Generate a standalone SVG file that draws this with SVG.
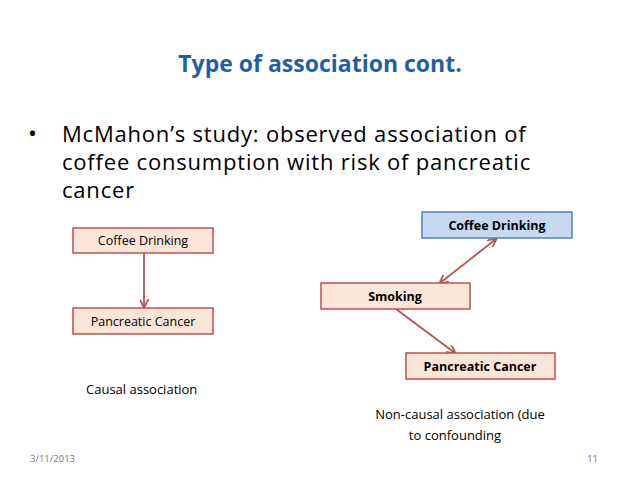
<svg xmlns="http://www.w3.org/2000/svg" width="638" height="479" viewBox="0 0 638 479">
<style>
text{font-family:"Open Sans","Liberation Sans",sans-serif;fill:#000}
.box{fill:#fbe5d6;stroke:#b85450;stroke-width:1.5}
.blue{fill:#c6d9f1;stroke:#4f81bd;stroke-width:1.5}
.lbl{font-size:12.5px;text-anchor:middle}
.b{font-weight:bold}
.c{stroke:#b85450;stroke-width:1.8;fill:none}
.bt{font-size:22px;letter-spacing:0.8px}
</style>
<defs><marker id="a" viewBox="0 0 10 10" refX="9" refY="5" markerWidth="5" markerHeight="5" orient="auto-start-reverse"><path d="M0,0 L10,5 L0,10" fill="none" stroke="#b85450" stroke-width="2"/></marker></defs>
<rect width="638" height="479" fill="#fff"/>
<text x="320" y="72" text-anchor="middle" font-size="23" font-weight="bold" style="fill:#1f5fa8">Type of association cont.</text>
<text x="28" y="142" font-size="24">•</text>
<text class="bt" x="62" y="142">McMahon’s study: observed association of</text>
<text class="bt" x="62" y="170">coffee consumption with risk of pancreatic</text>
<text class="bt" x="62" y="198">cancer</text>
<g id="connectors">
<line class="c" x1="144" y1="253" x2="144" y2="307" marker-end="url(#a)"/>
<line class="c" x1="440" y1="283" x2="496" y2="239" marker-start="url(#a)" marker-end="url(#a)"/>
<line class="c" x1="396" y1="309" x2="455" y2="353" marker-end="url(#a)"/>
</g>
<g id="n1"><rect class="box" x="73" y="228" width="140" height="25"/><text class="lbl" x="143" y="245">Coffee Drinking</text></g>
<g id="n2"><rect class="box" x="73" y="308" width="140" height="26"/><text class="lbl" x="143" y="326">Pancreatic Cancer</text></g>
<g id="n3"><rect class="blue" x="422" y="212" width="150" height="26"/><text class="lbl b" x="497" y="230">Coffee Drinking</text></g>
<g id="n4"><rect class="box" x="321" y="283" width="149" height="26"/><text class="lbl b" x="395" y="301">Smoking</text></g>
<g id="n5"><rect class="box" x="406" y="353" width="149" height="26"/><text class="lbl b" x="480" y="371">Pancreatic Cancer</text></g>
<text x="86" y="394" font-size="13">Causal association</text>
<text x="460" y="419" font-size="13" text-anchor="middle">Non-causal association (due</text>
<text x="455" y="440" font-size="13" text-anchor="middle">to confounding</text>
<text x="30" y="462" font-size="9.5" style="fill:#777">3/11/2013</text>
<text x="598" y="462" font-size="9.5" text-anchor="end" style="fill:#777">11</text>
</svg>
